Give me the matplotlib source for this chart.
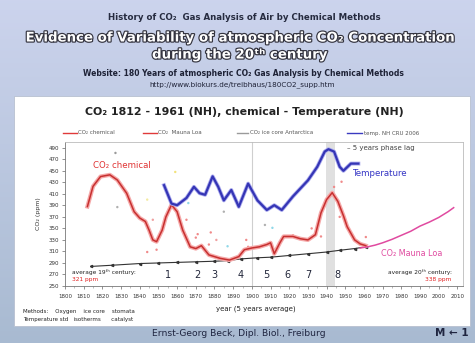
import matplotlib
matplotlib.use("Agg")
import matplotlib.pyplot as plt
import matplotlib.patheffects as pe
from matplotlib.patches import Rectangle
from matplotlib.lines import Line2D
import numpy as np

# ---- data -----------------------------------------------------------------
chem_years = [1812, 1815, 1819, 1824, 1828, 1833, 1837, 1840, 1843, 1845, 1847,
              1849, 1852, 1854, 1857, 1860, 1863, 1867, 1870, 1873, 1877, 1883,
              1888, 1893, 1896, 1900, 1904, 1908, 1910, 1912, 1915, 1917, 1922,
              1926, 1930, 1934, 1937, 1940, 1943, 1946, 1949, 1951, 1955, 1958,
              1961]
chem_ppm = [388, 423, 440, 443, 434, 411, 379, 368, 362, 347, 330,
            327, 347, 370, 391, 379, 347, 318, 315, 320, 304, 298,
            295, 301, 313, 316, 318, 322, 325, 306, 325, 336, 336,
            332, 330, 339, 377, 400, 412, 397, 372, 353, 330, 323,
            320]

mlo_years = [1958, 1962, 1966, 1970, 1975, 1980, 1985, 1990, 1995, 2000, 2005, 2008]
mlo_ppm = [316, 318, 321, 325, 331, 338, 345, 354, 361, 369, 379, 386]

ice_years = [1814, 1825, 1840, 1850, 1860, 1870, 1880, 1887, 1894, 1903, 1910,
             1920, 1930, 1940, 1947, 1955, 1961]
ice_ppm = [284, 286, 289, 290, 291, 292, 293, 294, 297, 299, 300,
           303, 306, 309, 312, 315, 318]

temp_years = [1853, 1857, 1860, 1865, 1869, 1872, 1875, 1879, 1882, 1885, 1889,
              1893, 1898, 1903, 1908, 1912, 1916, 1922, 1930, 1935, 1939, 1941,
              1944, 1947, 1949, 1953, 1957]
temp_anom = [-0.14, -0.37, -0.39, -0.30, -0.16, -0.24, -0.26, -0.03, -0.16, -0.33, -0.20,
             -0.41, -0.12, -0.33, -0.45, -0.39, -0.45, -0.28, -0.08, 0.09, 0.28, 0.31,
             0.28, 0.09, 0.04, 0.13, 0.13]

raw_years = [1827, 1859, 1844, 1828, 1866, 1847, 1844, 1849, 1865, 1870, 1878,
             1877, 1885, 1887, 1897, 1907, 1898, 1948, 1947, 1937, 1961, 1944,
             1911, 1932, 1922, 1871, 1881]
raw_ppm = [481, 448, 400, 387, 394, 365, 309, 313, 365, 334, 343,
           322, 379, 319, 330, 356, 318, 431, 370, 336, 335, 422,
           351, 350, 338, 340, 330]
raw_colors = ['#9a9a9a', '#f2e27a', '#f3eaa0', '#b0b0b0', '#8fd8e8', '#f0a0a0', '#f08a8a',
              '#f08a8a', '#f08a8a', '#f08a8a', '#f08a8a', '#f08a8a', '#b0b0b0', '#8fd8e8',
              '#f08a8a', '#b0b0b0', '#f08a8a', '#f08a8a', '#f08a8a', '#f08a8a', '#f08a8a',
              '#f08a8a', '#8fd8e8', '#f08a8a', '#f08a8a', '#f08a8a', '#f0a0a0']

period_numbers = ['1', '2', '3', '4', '5', '6', '7', '8']
period_years = [1855, 1871, 1880, 1894, 1908, 1919, 1930, 1946]

x_ticks = list(range(1800, 2011, 10))
y_ticks = list(range(250, 491, 20))

# ---- figure ---------------------------------------------------------------
W, H = 475, 343
fig = plt.figure(figsize=(W / 100, H / 100), dpi=100)


def fx(x):
    return x / W


def fy(y):
    return 1 - y / H


# slide background gradient
bg = fig.add_axes([0, 0, 1, 1], zorder=-10)
bg.axis('off')
top = np.array([0.80, 0.83, 0.93])
bot = np.array([0.66, 0.73, 0.82])
t = np.linspace(0, 1, 200)[:, None]
grad = top[None, :] * (1 - t) + bot[None, :] * t
bg.imshow(grad[:, None, :].repeat(10, axis=1), aspect='auto', extent=[0, 1, 0, 1])
bg.set_xlim(0, 1)
bg.set_ylim(0, 1)

# white chart panel
fig.add_artist(Rectangle((fx(14), fy(326)), fx(470) - fx(14), fy(96) - fy(326),
                         transform=fig.transFigure, facecolor='white',
                         edgecolor='#b8c0d0', lw=0.6, zorder=-5))

# slide headings
fig.text(fx(244), fy(17), 'History of CO₂  Gas Analysis of Air by Chemical Methods',
         ha='center', va='center', fontsize=6.2, fontweight='bold', color='#262b40')
outline = [pe.withStroke(linewidth=1.7, foreground='#34343f')]
fig.text(fx(241), fy(38), 'Evidence of Variability of atmospheric CO₂ Concentration',
         ha='center', va='center', fontsize=9.6, fontweight='bold', color='white',
         path_effects=outline)
fig.text(fx(240), fy(55), 'during the 20ᵗʰ century',
         ha='center', va='center', fontsize=9.6, fontweight='bold', color='white',
         path_effects=outline)
fig.text(fx(243), fy(73), 'Website: 180 Years of atmospheric CO₂ Gas Analysis by Chemical Methods',
         ha='center', va='center', fontsize=5.5, fontweight='bold', color='#1e2236')
fig.text(fx(242), fy(85), 'http://www.biokurs.de/treibhaus/180CO2_supp.htm',
         ha='center', va='center', fontsize=5.2, color='#1e2236')

# chart title
fig.text(fx(244), fy(112), 'CO₂ 1812 - 1961 (NH), chemical - Temperature (NH)',
         ha='center', va='center', fontsize=7.9, fontweight='bold', color='#222222')

# legend row
legend_items = [
    (63, 77, '#e03a3a', 'CO₂ chemical'),
    (143, 157, '#e03a3a', 'CO₂  Mauna Loa'),
    (237, 248, '#9a9a9a', 'CO₂ ice core Antarctica'),
    (347, 362, '#3a3ac0', 'temp. NH CRU 2006'),
]
for x0, x1, c, lab in legend_items:
    fig.add_artist(Line2D([fx(x0), fx(x1)], [fy(133), fy(133)], color=c, lw=1.0,
                          transform=fig.transFigure))
    fig.text(fx(x1 + 1.5), fy(133), lab, ha='left', va='center', fontsize=4.0,
             color='#555555')

# ---- main axes ------------------------------------------------------------
ax = fig.add_axes([fx(65), fy(286), fx(463) - fx(65), fy(142) - fy(286)])
ax.set_xlim(1800, 2013)
ax.set_ylim(250, 500)
ax.set_facecolor('white')

ax.axvspan(1939.5, 1944.5, color='#d4d4d4', alpha=0.7, lw=0, zorder=0)
ax.axvline(1900, color='#cfcfcf', lw=0.8, zorder=0)

# raw measurements
ax.scatter(raw_years, raw_ppm, s=3, c=raw_colors, marker='o', lw=0, zorder=2)

# ice core reference with markers
ax.plot(ice_years, ice_ppm, color='#333333', lw=0.8, marker='<', ms=1.6, zorder=3)

# chemical CO2 (5-year averages)
ax.plot(chem_years, chem_ppm, color='#f5a8a8', lw=3.0, solid_joinstyle='round', zorder=4)
ax.plot(chem_years, chem_ppm, color='#c73030', lw=1.1, solid_joinstyle='round', zorder=5)

# Mauna Loa
ax.plot(mlo_years, mlo_ppm, color='#e04aa0', lw=1.1, zorder=4)

# temperature on its own hidden scale
tax = ax.twinx()
tax.set_ylim(-1.4, 0.4)
tax.plot(temp_years, temp_anom, color='#aaaaee', lw=2.8, solid_joinstyle='round', zorder=3)
tax.plot(temp_years, temp_anom, color='#3535b5', lw=1.6, solid_joinstyle='round', zorder=4)
tax.set_yticks([])
for s in tax.spines.values():
    s.set_visible(False)

ax.set_xticks(x_ticks)
ax.set_xticklabels([str(v) for v in x_ticks], fontsize=4.0, color='#333333')
ax.set_yticks(y_ticks)
ax.set_yticklabels([str(v) for v in y_ticks], fontsize=4.0, color='#333333')
ax.set_xticks(range(1800, 2013, 5), minor=True)
ax.tick_params(axis='x', length=2, width=0.5, pad=4, colors='#666666', labelcolor='#333333')
ax.tick_params(axis='x', which='minor', length=1.2, width=0.4, colors='#888888')
ax.tick_params(axis='y', length=2, width=0.5, pad=2.5, colors='#666666', labelcolor='#333333')
for name, s in ax.spines.items():
    s.set_linewidth(0.6)
    s.set_color('#777777' if name in ('left', 'bottom') else '#bbbbbb')

ax.set_ylabel('CO₂ (ppm)', fontsize=4.5, color='#333333', labelpad=5)

# in-plot annotations
ax.text(1815, 460, 'CO₂ chemical', fontsize=6.2, color='#e03434', ha='left', va='center')
ax.text(1954, 446, 'Temperature', fontsize=6.2, color='#3434c4', ha='left', va='center')
ax.text(1969, 307, 'CO₂ Mauna Loa', fontsize=5.8, color='#e04aa0', ha='left', va='center')
ax.text(1951, 490, '– 5 years phase lag', fontsize=5.0, color='#444444', ha='left', va='center')
for lab, yr in zip(period_numbers, period_years):
    ax.text(yr, 269, lab, fontsize=7, color='#22263a', ha='center', va='center')
ax.text(1804, 274, 'average 19ᵗʰ century:', fontsize=4.2, color='#222222', ha='left', va='center')
ax.text(1804, 261, '321 ppm', fontsize=4.2, color='#e02020', ha='left', va='center')
ax.text(2007, 274, 'average 20ᵗʰ century:', fontsize=4.2, color='#222222', ha='right', va='center')
ax.text(2007, 261, '338 ppm', fontsize=4.2, color='#e02020', ha='right', va='center')

# x label and method notes
fig.text(fx(256), fy(309), 'year (5 years average)', ha='center', va='center',
         fontsize=5.0, color='#222222')
fig.text(fx(23), fy(311), 'Methods:    Oxygen    ice core    stomata', ha='left', va='center',
         fontsize=4.0, color='#222222')
fig.text(fx(23), fy(319), 'Temperature std   isotherms      catalyst', ha='left', va='center',
         fontsize=4.0, color='#222222')

# footer
fig.text(fx(239), fy(334), 'Ernst-Georg Beck, Dipl. Biol., Freiburg', ha='center', va='center',
         fontsize=6.6, color='#1f2540')
fig.text(fx(452), fy(333), 'M ← 1', ha='center', va='center', fontsize=7.5,
         fontweight='bold', color='#1f2540')

fig.savefig('out.png', dpi=100)
